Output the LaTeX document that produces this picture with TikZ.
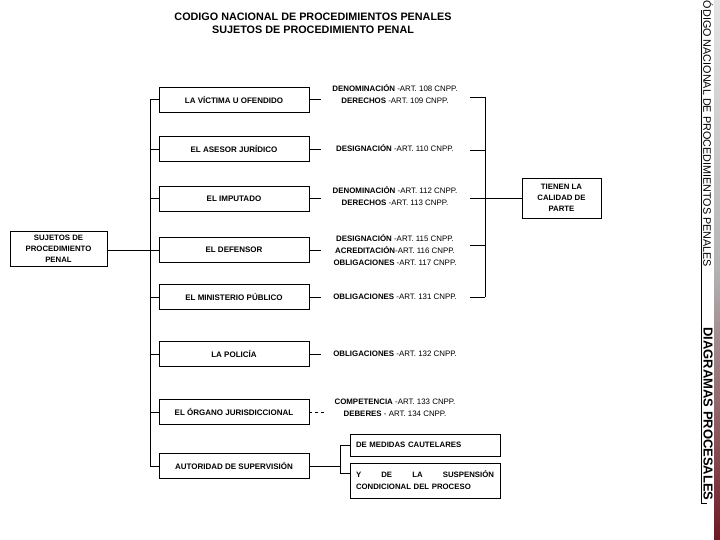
\documentclass[tikz,border=0pt]{standalone}
\usepackage{fontspec}
\setmainfont{Liberation Sans}
\definecolor{edgered}{RGB}{110,25,35}
\begin{document}
\begin{tikzpicture}[x=1pt,y=-1pt,
  mainbox/.style={draw, line width=0.8pt, minimum width=150pt, minimum height=25pt, inner sep=2pt, font=\bfseries\fontsize{8}{9}\selectfont},
  sidebox/.style={draw, line width=0.8pt, align=center, inner sep=2pt, font=\bfseries\fontsize{7.8}{11}\selectfont},
  subbox/.style={draw, line width=0.8pt, text width=138pt, inner xsep=6pt, align=left, font=\bfseries\fontsize{7.8}{12}\selectfont},
  arttext/.style={align=center, inner sep=1pt, font=\fontsize{7.9}{12}\selectfont},
  link/.style={line width=0.7pt}]
\useasboundingbox (0,0) rectangle (720,540);
\shade[top color=white!90!black, bottom color=edgered, middle color=white!70!black] (714,0) rectangle (720,540);

% title
\node[align=center, font=\bfseries\fontsize{10.8}{13}\selectfont] (title) at (313,23.5) {CODIGO NACIONAL DE PROCEDIMIENTOS PENALES\\SUJETOS DE PROCEDIMIENTO PENAL};

% left box
\node[sidebox, minimum width=97pt, minimum height=35pt] (suj) at (58.5,249) {SUJETOS DE\\PROCEDIMIENTO\\PENAL};

% main boxes
\node[mainbox] (b1) at (234,99.5) {LA VÍCTIMA U OFENDIDO};
\node[mainbox] (b2) at (234,149) {EL ASESOR JURÍDICO};
\node[mainbox] (b3) at (234,198.5) {EL IMPUTADO};
\node[mainbox] (b4) at (234,250) {EL DEFENSOR};
\node[mainbox] (b5) at (234,297) {EL MINISTERIO PÚBLICO};
\node[mainbox] (b6) at (234,354) {LA POLICÍA};
\node[mainbox] (b7) at (234,412) {EL ÓRGANO JURISDICCIONAL};
\node[mainbox] (b8) at (234,466) {AUTORIDAD DE SUPERVISIÓN};

% article texts
\node[arttext] (t1) at (395,94) {\textbf{DENOMINACIÓN} -ART. 108 CNPP.\\\textbf{DERECHOS} -ART. 109 CNPP.};
\node[arttext] (t2) at (395,148) {\textbf{DESIGNACIÓN} -ART. 110 CNPP.};
\node[arttext] (t3) at (395,196) {\textbf{DENOMINACIÓN} -ART. 112 CNPP.\\\textbf{DERECHOS} -ART. 113 CNPP.};
\node[arttext] (t4) at (395,250) {\textbf{DESIGNACIÓN} -ART. 115 CNPP.\\\textbf{ACREDITACIÓN}-ART. 116 CNPP.\\\textbf{OBLIGACIONES} -ART. 117 CNPP.};
\node[arttext] (t5) at (395,297) {\textbf{OBLIGACIONES} -ART. 131 CNPP.};
\node[arttext] (t6) at (395,354) {\textbf{OBLIGACIONES} -ART. 132 CNPP.};
\node[arttext] (t7) at (395,407.5) {\textbf{COMPETENCIA} -ART. 133 CNPP.\\\textbf{DEBERES} - ART. 134 CNPP.};

% right box
\node[sidebox, minimum width=79pt, minimum height=40pt] (parte) at (561.5,198) {TIENEN LA\\CALIDAD DE\\PARTE};

% supervision sub-boxes
\node[subbox, minimum height=22pt] (sa) at (425,445) {DE MEDIDAS CAUTELARES};
\node[subbox, minimum height=35pt] (sb) at (425,480.5) {\makebox[138pt][s]{Y\hfill DE\hfill LA\hfill SUSPENSIÓN}\\CONDICIONAL DEL PROCESO};

% coordinates for the bus lines
\coordinate (v) at (150,0);
\coordinate (rl) at (470,0);
\coordinate (r) at (485,0);
\coordinate (s) at (340,0);

% left tree
\draw[link] (suj.east |- b4.west) -- (b4.west -| v);
\draw[link] (b1.west) -- (b1.west -| v) -- (b8.west -| v) -- (b8.west);
\foreach \n in {b2,b3,b4,b5,b6,b7} \draw[link] (\n.west) -- (\n.west -| v);

% box to text links
\foreach \n in {b1,b2,b3,b4,b5,b6} \draw[link] (\n.east) -- ++(12,0);
\draw[link, dashed] (b7.east) -- ++(15,0);

% right bracket
\draw[link] (t1.east -| rl) ++(0,3) -- ++(15,0) coordinate (rtop);
\draw[link] (rtop) -- (t5.east -| r);
\draw[link] (t2.east -| rl) ++(0,2) -- ++(15,0);
\draw[link] (t4.east -| rl) ++(0,-5) -- ++(15,0);
\draw[link] (t5.east -| rl) -- (t5.east -| r);
\draw[link] (t3.east -| rl) ++(0,2) -- (parte.west);

% supervision bracket
\draw[link] (b8.east) -- (b8.east -| s);
\draw[link] (sa.west) -- (sa.west -| s) -- ([yshift=7.5pt]sb.west -| s) -- ([yshift=7.5pt]sb.west);

% side margin texts
\node[rotate=-90, inner sep=0pt, font=\fontsize{10.8}{12}\selectfont] (side1) at (708,134) {ÓDIGO NACIONAL DE PROCEDIMIENTOS PENALES};
\node[rotate=-90, inner sep=0pt, font=\bfseries\fontsize{13}{14}\selectfont] (side2) at (708,414) {DIAGRAMAS PROCESALES};
\coordinate (ul) at (701,10);
\coordinate (ulb) at (701,503);
\draw[line width=0.6pt] (ul) -- (ulb) -- ++(6,0);
\end{tikzpicture}
\end{document}
